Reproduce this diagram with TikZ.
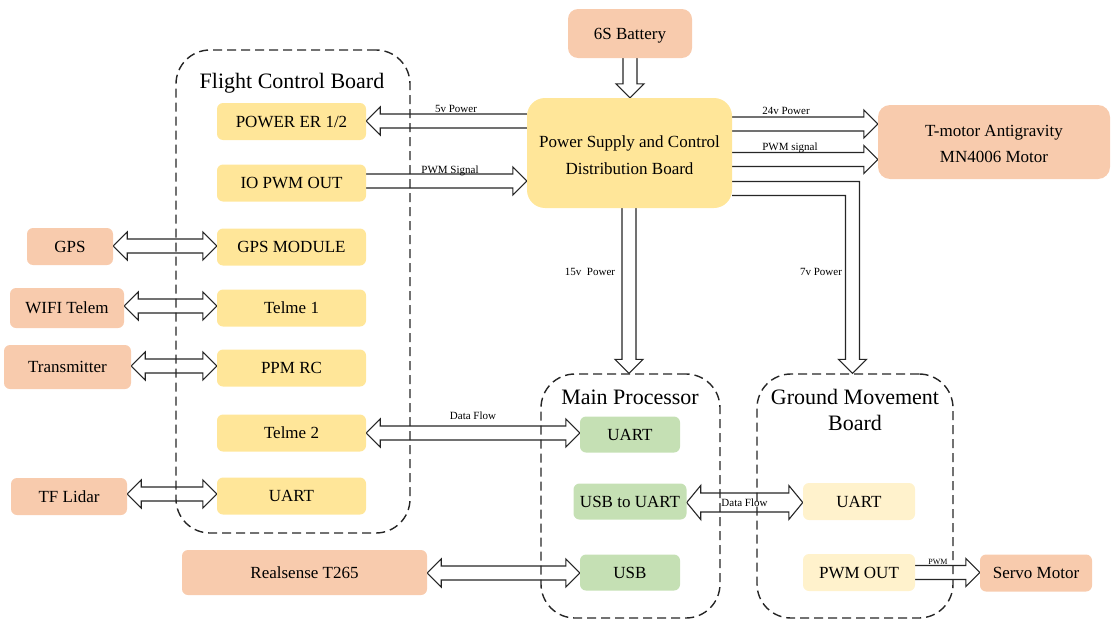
\documentclass[tikz,border=0pt]{standalone}
\usepackage{fontspec}
\setmainfont{Liberation Serif}
\usetikzlibrary{calc}
\definecolor{corange}{HTML}{F8CBAD}
\definecolor{cyellow}{HTML}{FFE699}
\definecolor{cgreen}{HTML}{C5E0B4}
\definecolor{clight}{HTML}{FFF2CC}
\pgfdeclarelayer{bg}
\pgfsetlayers{bg,main}
\def\sw{7pt}
\def\hw{14pt}
\def\hl{14pt}
% right-pointing arrow, tail at x of #1, tip at x of #2, at height #3
\newcommand\arrR[3]{\draw[harrow] let \p1=(#1), \p2=(#2), \p3=(0,#3) in
  (\x1,\y3+\sw) -- (\x2-\hl,\y3+\sw) -- (\x2-\hl,\y3+\hw) -- (\x2,\y3) -- (\x2-\hl,\y3-\hw) -- (\x2-\hl,\y3-\sw) -- (\x1,\y3-\sw);}
% left-pointing arrow, tail at x of #1 (right), tip at x of #2 (left)
\newcommand\arrL[3]{\draw[harrow] let \p1=(#1), \p2=(#2), \p3=(0,#3) in
  (\x1,\y3+\sw) -- (\x2+\hl,\y3+\sw) -- (\x2+\hl,\y3+\hw) -- (\x2,\y3) -- (\x2+\hl,\y3-\hw) -- (\x2+\hl,\y3-\sw) -- (\x1,\y3-\sw);}
% double-headed horizontal arrow between x of #1 (left) and x of #2 (right)
\newcommand\arrLR[3]{\draw[harrow] let \p1=(#1), \p2=(#2), \p3=(0,#3) in
  (\x1,\y3) -- (\x1+\hl,\y3+\hw) -- (\x1+\hl,\y3+\sw) -- (\x2-\hl,\y3+\sw) -- (\x2-\hl,\y3+\hw) -- (\x2,\y3) -- (\x2-\hl,\y3-\hw) -- (\x2-\hl,\y3-\sw) -- (\x1+\hl,\y3-\sw) -- (\x1+\hl,\y3-\hw) -- cycle;}
% downward arrow from y of #1 to y of #2 at x #3
\newcommand\arrD[3]{\draw[harrow] let \p1=(#1), \p2=(#2), \p3=(#3,0) in
  (\x3-\sw,\y1) -- (\x3-\sw,\y2+\hl) -- (\x3-\hw,\y2+\hl) -- (\x3,\y2) -- (\x3+\hw,\y2+\hl) -- (\x3+\sw,\y2+\hl) -- (\x3+\sw,\y1);}
\begin{document}
\begin{tikzpicture}[x=1pt,y=-1pt,
  box/.style={rounded corners=6pt, inner sep=0pt, align=center, font=\fontsize{17}{26.5}\selectfont},
  one/.style={text height=11.5pt, text depth=0pt},
  ybox/.style={box, one, fill=cyellow, minimum width=149pt, minimum height=37pt},
  obox/.style={box, fill=corange},
  gbox/.style={box, one, fill=cgreen, minimum height=36pt},
  lbox/.style={box, one, fill=clight, minimum width=112pt, minimum height=37pt},
  container/.style={draw=black!85, line width=1.4pt, dash pattern=on 9pt off 5pt, rounded corners=34pt, inner sep=0pt},
  title/.style={font=\fontsize{22}{26}\selectfont, align=center, inner sep=0pt},
  lab/.style={font=\fontsize{11}{13}\selectfont, inner sep=0pt, text height=7.5pt, text depth=0pt},
  harrow/.style={draw=black!85, line width=1.1pt, fill=white, line join=miter}]
\useasboundingbox (0,0) rectangle (1112,621);

% containers
\node[container, minimum width=234pt, minimum height=483pt] (fcb) at (293,291.5) {};
\node[container, minimum width=179pt, minimum height=244pt] (mp) at (630.5,496) {};
\node[container, minimum width=196pt, minimum height=244pt] (gmb) at (855,496) {};
\node[title, text height=14.5pt, text depth=0pt] (fcbt) at (292,81.5) {Flight Control Board};
\node[title, text height=14.5pt, text depth=0pt] (mpt) at (630,397) {Main Processor};
\node[title] (gmbt) at (855,410) {Ground Movement\\Board};

% flight control board entries
\node[ybox] (pwr) at (291.5,121.5) {POWER ER 1/2};
\node[ybox] (iopwm) at (291.5,183) {IO PWM OUT};
\node[ybox] (gpsm) at (291.5,247) {GPS MODULE};
\node[ybox] (tel1) at (291.5,308) {Telme 1};
\node[ybox] (ppm) at (291.5,368) {PPM RC};
\node[ybox] (tel2) at (291.5,433) {Telme 2};
\node[ybox] (uartf) at (291.5,496) {UART};

% peripherals
\node[obox, one, minimum width=86pt, minimum height=37pt] (gps) at (70,246.5) {GPS};
\node[obox, one, minimum width=114pt, minimum height=40pt] (wifi) at (67,308) {WIFI Telem};
\node[obox, one, minimum width=127pt, minimum height=44pt] (trans) at (67.5,367) {Transmitter};
\node[obox, one, minimum width=116pt, minimum height=37pt] (lidar) at (69,496.5) {TF Lidar};
\node[obox, one, minimum width=245pt, minimum height=45pt] (rs) at (304.5,572.5) {Realsense T265};
\node[obox, one, minimum width=124pt, minimum height=49pt, rounded corners=10pt] (bat) at (630,33.5) {6S Battery};
\node[box, fill=cyellow, minimum width=205pt, minimum height=110pt, rounded corners=18pt] (psb) at (629.5,153) {\rule{0pt}{16pt}Power Supply and Control\\Distribution Board};
\node[obox, minimum width=232pt, minimum height=74pt, rounded corners=12pt] (tm) at (994,142) {\rule{0pt}{15pt}T-motor Antigravity\\MN4006 Motor};
\node[obox, one, minimum width=112pt, minimum height=37pt] (servo) at (1036,573) {Servo Motor};

% main processor entries
\node[gbox, minimum width=100pt] (uartm) at (630,434.5) {UART};
\node[gbox, minimum width=113pt] (usbu) at (630,501.5) {USB to UART};
\node[gbox, minimum width=100pt] (usb) at (630,572.5) {USB};

% ground movement board entries
\node[lbox] (uartg) at (859,501.5) {UART};
\node[lbox] (pwmo) at (859,572.5) {PWM OUT};

% connectors
\begin{pgfonlayer}{bg}
\arrD{bat.south}{psb.north}{630}
\arrL{psb.west}{pwr.east}{121}
\arrR{iopwm.east}{psb.west}{181}
\arrR{psb.east}{tm.west}{124}
\arrR{psb.east}{tm.west}{159.5}
\arrD{psb.south}{mp.north}{629}
\draw[harrow] let \p1=(psb.east), \p2=(gmb.north), \p3=(852.5,188.5) in
  (\x1,\y3+\sw) -- (\x3+\sw,\y3+\sw) -- (\x3+\sw,\y2+\hl) -- (\x3+\hw,\y2+\hl) -- (\x3,\y2)
  -- (\x3-\hw,\y2+\hl) -- (\x3-\sw,\y2+\hl) -- (\x3-\sw,\y3-\sw) -- (\x1,\y3-\sw);
\arrLR{gps.east}{gpsm.west}{246}
\arrLR{wifi.east}{tel1.west}{306}
\arrLR{trans.east}{ppm.west}{366}
\arrLR{lidar.east}{uartf.west}{494}
\arrLR{tel2.east}{uartm.west}{433}
\arrLR{rs.east}{usb.west}{573}
\arrR{pwmo.east}{servo.west}{572.5}
{\def\sw{9.5pt}\def\hw{17pt}\arrLR{usbu.east}{uartg.west}{502.5}}
\end{pgfonlayer}

% connector labels
\node[lab] (l5v) at (456,108.5) {5v Power};
\node[lab] (lpwm1) at (450,169.5) {PWM Signal};
\node[lab] (l24v) at (786,111) {24v Power};
\node[lab] (lpwm2) at (790,147) {PWM signal};
\node[lab] (l15v) at (590,272) {15v\ \ Power};
\node[lab] (l7v) at (821,272) {7v Power};
\node[lab] (ldf1) at (473,416) {Data Flow};
\node[lab] (ldf2) at (744.5,502.5) {Data Flow};
\node[lab, font=\fontsize{8}{9}\selectfont, text height=5.5pt] (lpwm3) at (938,562) {PWM};
\end{tikzpicture}
\end{document}
